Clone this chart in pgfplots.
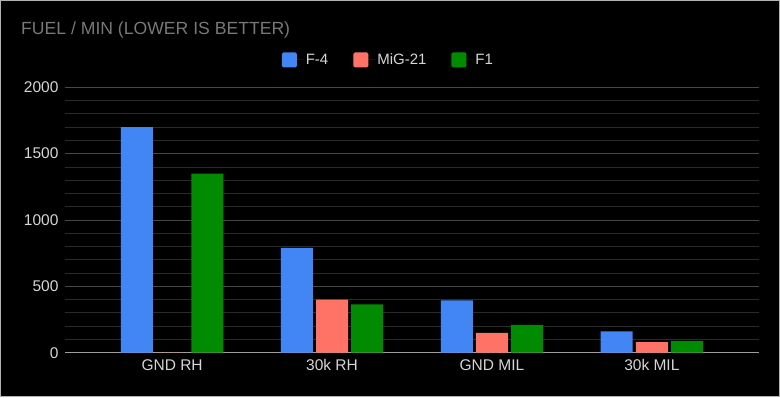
\documentclass[border=0pt]{standalone}
\usepackage{pgfplots}
\pgfplotsset{compat=1.18}
\usepackage{fontspec}
\setmainfont{Liberation Sans}
\definecolor{cblue}{HTML}{4285F4}
\definecolor{csalmon}{HTML}{FF7367}
\definecolor{cgreen}{HTML}{008B00}
\definecolor{ctitle}{HTML}{787878}
\definecolor{ctext}{HTML}{D6D6D6}
\begin{document}
\begin{tikzpicture}[x=1pt,y=1pt]
\fill[black] (0,0) rectangle (780,397);
\draw[gray!60, line width=1pt] (0.5,0.5) rectangle (779.5,396.5);
\node[anchor=west, text=ctitle, font=\fontsize{17.6}{20}\selectfont, inner sep=0] at (21,367) {FUEL / MIN (LOWER IS BETTER)};
\begin{axis}[
  at={(65pt,44.3pt)}, anchor=south west,
  scale only axis, width=694pt, height=265.4pt,
  xmin=-0.67, xmax=3.67, ymin=0, ymax=2000,
  xtick={0,1,2,3}, xticklabels={GND RH,30k RH,GND MIL,30k MIL},
  ytick={0,500,1000,1500,2000}, minor y tick num=4,
  /pgf/number format/assume math mode=true,
  /pgf/number format/1000 sep={},
  major tick length=0, minor tick length=0,
  axis line style={draw=none},
  ymajorgrids, yminorgrids,
  major grid style={color=white!28!black, line width=0.8pt},
  minor grid style={color=white!17!black, line width=0.8pt},
  extra y ticks={0}, extra y tick labels={},
  extra y tick style={major grid style={color=white!62!black, line width=1.2pt}},
  ticklabel style={text=ctext, font=\fontsize{15.5}{18}\selectfont},
  yticklabel style={xshift=-3pt},
  xticklabel style={yshift=-3pt},
  ybar, bar width=0.2,
  legend columns=-1,
  legend style={at={(0.466,1.103)}, anchor=center, draw=none, fill=none, text=ctext, font=\fontsize{15}{18}\selectfont, /tikz/every even column/.append style={column sep=23pt}},
  legend image code/.code={\fill[#1,draw=none,rounded corners=1.5pt] (0pt,-7.5pt) rectangle (15pt,7.5pt); \path (0pt,0pt) -- (22pt,0pt);},
]
\addplot[fill=cblue, draw=none, bar shift=-0.22] coordinates {(0,1700) (1,790) (2,395) (3,160)};
\addplot[fill=csalmon, draw=none, bar shift=0] coordinates {(0,0) (1,400) (2,150) (3,80)};
\addplot[fill=cgreen, draw=none, bar shift=0.22] coordinates {(0,1350) (1,365) (2,210) (3,90)};
\legend{F-4,MiG-21,F1}
\end{axis}
\end{tikzpicture}
\end{document}
